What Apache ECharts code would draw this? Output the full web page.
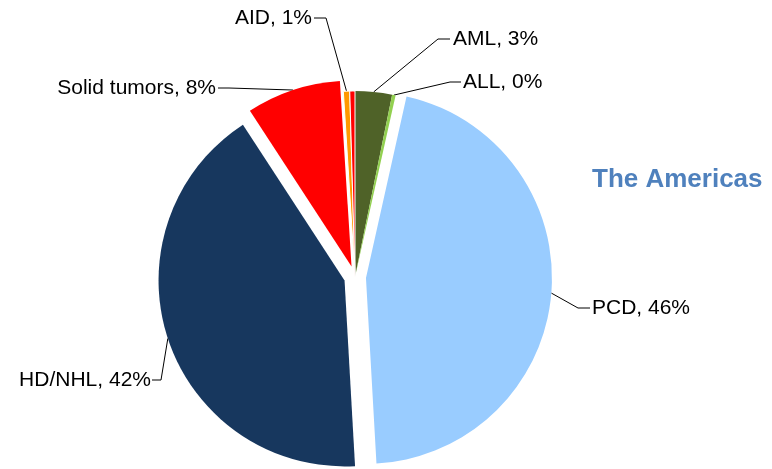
<!DOCTYPE html>
<html>
<head>
<meta charset="utf-8">
<script src="https://cdn.jsdelivr.net/npm/echarts@6/dist/echarts.min.js"></script>
<style>
  html, body { margin: 0; padding: 0; background: #fff; }
  #main { width: 772px; height: 469px; }
</style>
</head>
<body>
<div id="main"></div>
<script>
const main = document.getElementById('main')
const myChart = echarts.init(main)

// data (share of each group)
const names = ['AML', 'ALL', 'PCD', 'HD/NHL', 'Solid tumors', 'AID', 'Other']
const values = [3.2, 0.3, 45.6, 41.7, 8.2, 0.55, 0.45]
const colors = ['#4F6228', '#92D050', '#99CCFF', '#17375E', '#FF0000', '#FF9900', '#FF0000']
const exploded = [false, false, true, true, true, false, false]
const showLabel = [true, true, true, true, true, true, false]

// layout of the pie and of the labels
const cx = 355, cy = 277, R = 186, offset = 11
// [text x, text y, align, knee x, line end x]
const labelPos = [
    [453, 39, 'left', 438, 450],
    [463, 82, 'left', 450, 461],
    [592, 308, 'left', 578, 590],
    [151, 380, 'right', 161, 152],
    [216, 88, 'right', 229, 218],
    [312, 18, 'right', 326, 314]
]

const total = values.reduce((a, b) => a + b, 0)
const font = 'Arial, "Liberation Sans", sans-serif'

// point on the outer edge at the middle of each slice
function edgePoint(i) {
    let before = 0
    for (let k = 0; k < i; k++) before += values[k]
    const mid = (before + values[i] / 2) / total * Math.PI * 2
    const r = R + (exploded[i] ? offset : 0)
    return [cx + r * Math.sin(mid), cy - r * Math.cos(mid)]
}

// slices (exploded ones are selected)
const sliceData = names.map((n, i) => ({
    name: n,
    value: values[i],
    selected: exploded[i],
    itemStyle: {
        color: colors[i],
        borderColor: '#fff',
        borderWidth: i >= 5 ? 1 : 0
    }
}))

// invisible copy that only carries the labels
const labelData = names.map((n, i) => ({
    name: n,
    value: values[i],
    itemStyle: { color: 'rgba(0,0,0,0)' },
    label: { show: showLabel[i] },
    labelLine: { show: showLabel[i] }
}))

myChart.setOption({
    animation: false,
    title: {
        text: 'The Americas',
        left: 587,
        top: 162,
        textStyle: {
            color: '#4F81BD',
            fontSize: 26,
            fontWeight: 'bold',
            fontFamily: font
        }
    },
    series: [{
        type: 'pie',
        center: [cx, cy],
        radius: R,
        startAngle: 90,
        clockwise: true,
        selectedMode: 'multiple',
        selectedOffset: offset,
        emphasis: { scale: false },
        label: { show: false },
        labelLine: { show: false },
        data: sliceData
    }, {
        type: 'pie',
        silent: true,
        center: [cx, cy],
        radius: R,
        startAngle: 90,
        clockwise: true,
        avoidLabelOverlap: false,
        emphasis: { scale: false },
        label: {
            show: true,
            position: 'outside',
            color: '#000',
            fontSize: 21,
            fontFamily: font,
            formatter: (p) => `${p.name}, ${Math.round(p.value / total * 100)}%`
        },
        labelLine: {
            show: true,
            lineStyle: { color: '#000', width: 1 }
        },
        labelLayout: function (p) {
            const pos = labelPos[p.dataIndex]
            if (!pos) return {}
            const e = edgePoint(p.dataIndex)
            return {
                x: pos[0],
                y: pos[1],
                align: pos[2],
                verticalAlign: 'middle',
                labelLinePoints: [e, [pos[3], pos[1]], [pos[4], pos[1]]]
            }
        },
        data: labelData
    }]
})
</script>
</body>
</html>
